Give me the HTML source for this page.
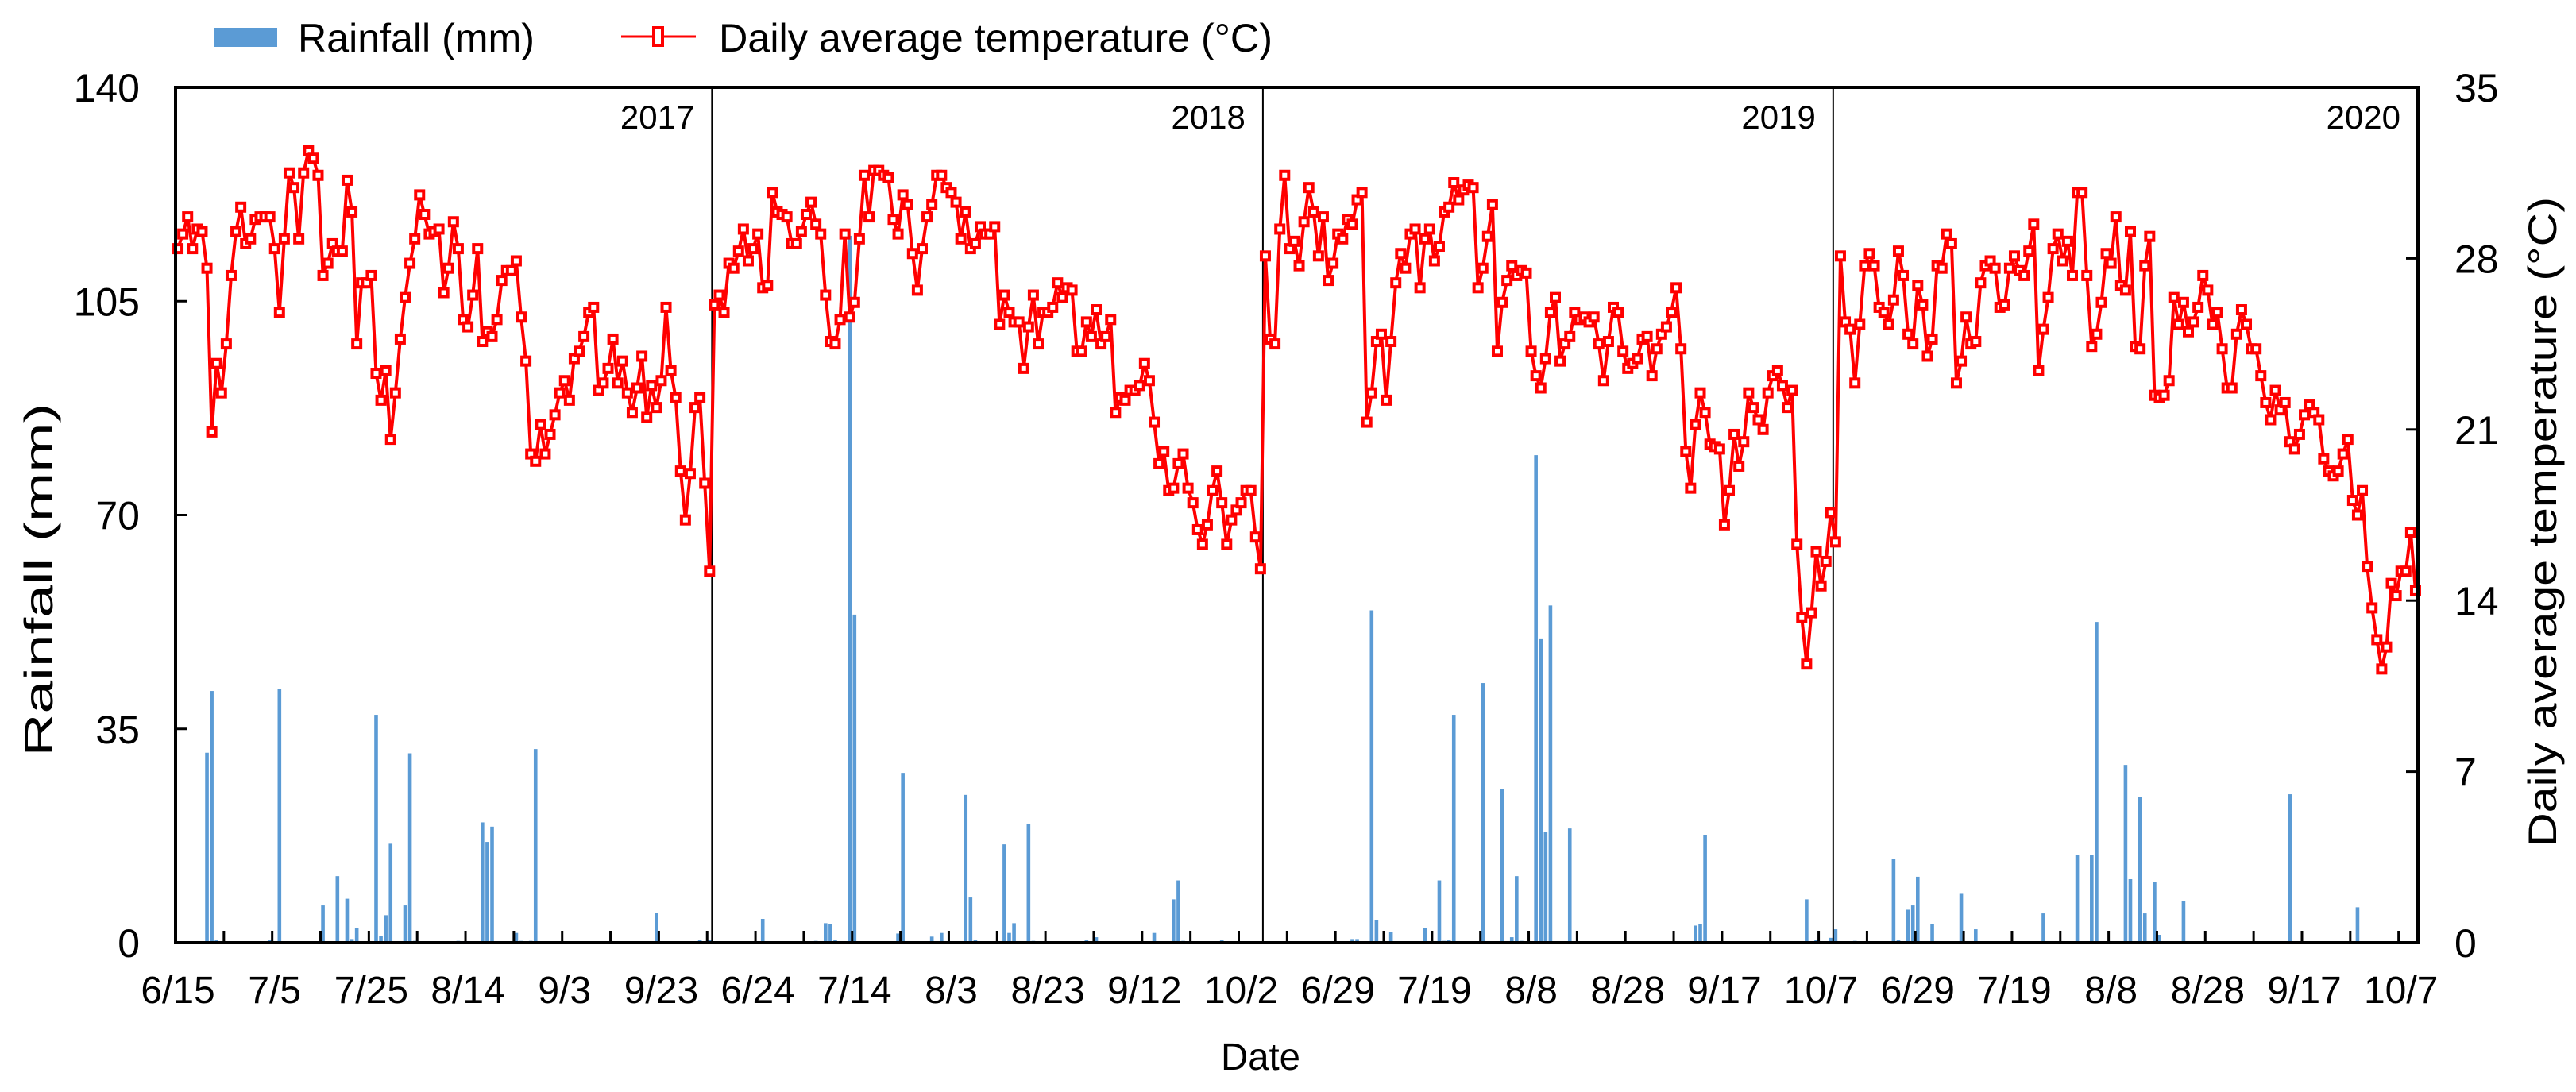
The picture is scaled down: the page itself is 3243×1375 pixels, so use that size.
<!DOCTYPE html>
<html><head><meta charset="utf-8"><style>
html,body{margin:0;padding:0;background:#fff;}
svg{display:block;font-family:"Liberation Sans",Arial,sans-serif;}
</style></head><body>
<svg id="chart" width="3243" height="1375" viewBox="0 0 3243 1375" xmlns="http://www.w3.org/2000/svg">
<g>
 <rect x="269" y="35" width="80" height="24" fill="#5b9bd5"/>
 <text x="375" y="65" font-size="50" textLength="298" lengthAdjust="spacingAndGlyphs">Rainfall (mm)</text>
 <line x1="782" y1="46" x2="876" y2="46" stroke="#ff0000" stroke-width="3"/>
 <rect x="823" y="35" width="11" height="22" fill="#fff" stroke="#ff0000" stroke-width="4"/>
 <text x="905" y="65" font-size="50" textLength="697" lengthAdjust="spacingAndGlyphs">Daily average temperature (°C)</text>
</g>
<g id="plot"></g>
<text transform="translate(66,730) rotate(-90)" text-anchor="middle" font-size="50" textLength="445" lengthAdjust="spacingAndGlyphs">Rainfall (mm)</text>
<text transform="translate(3218,657) rotate(-90)" text-anchor="middle" font-size="50" textLength="818" lengthAdjust="spacingAndGlyphs">Daily average temperature (°C)</text>
<text x="1587" y="1347" text-anchor="middle" font-size="48" textLength="100" lengthAdjust="spacingAndGlyphs">Date</text>
</svg>
<script>
const years = ["2017","2018","2019","2020"];
const temp2017 = [28.4,29.0,29.7,28.4,29.2,29.1,27.6,20.9,23.7,22.5,24.5,27.3,29.1,30.1,28.6,28.8,29.6,29.7,29.7,29.7,28.4,25.8,28.8,31.5,30.9,28.8,31.5,32.4,32.1,31.4,27.3,27.8,28.6,28.3,28.3,31.2,29.9,24.5,27.0,27.0,27.3,23.3,22.2,23.4,20.6,22.5,24.7,26.4,27.8,28.8,30.6,29.8,29.0,29.1,29.2,26.6,27.6,29.5,28.4,25.5,25.2,26.5,28.4,24.6,25.0,24.8,25.5,27.1,27.5,27.5,27.9,25.6,23.8,20.0,19.7,21.2,20.0,20.8,21.6,22.5,23.0,22.2,23.9,24.2,24.8,25.8,26.0,22.6,22.9,23.5,24.7,22.9,23.8,22.5,21.7,22.7,24.0,21.5,22.8,21.9,23.0,26.0,23.4,22.3,19.3,17.3,19.2,21.9,22.3,18.8,15.2];
const temp2018 = [26.1,26.5,25.8,27.8,27.6,28.3,29.2,27.9,28.4,29.0,26.8,26.9,30.7,29.9,29.8,29.7,28.6,28.6,29.1,29.8,30.3,29.4,29.0,26.5,24.6,24.5,25.5,29.0,25.6,26.2,28.8,31.4,29.7,31.6,31.6,31.4,31.3,29.6,29.0,30.6,30.2,28.2,26.7,28.4,29.7,30.2,31.4,31.4,30.9,30.7,30.3,28.8,29.9,28.4,28.6,29.3,29.0,29.0,29.3,25.3,26.5,25.8,25.4,25.4,23.5,25.2,26.5,24.5,25.8,25.8,26.0,27.0,26.4,26.8,26.7,24.2,24.2,25.4,24.8,25.9,24.5,24.8,25.5,21.7,22.3,22.2,22.6,22.6,22.8,23.7,23.0,21.3,19.6,20.1,18.5,18.6,19.6,20.0,18.6,18.0,16.9,16.3,17.1,18.5,19.3,18.0,16.3,17.3,17.7,18.0,18.5,18.5,16.6,15.3];
const temp2019 = [28.1,24.7,24.5,29.2,31.4,28.4,28.7,27.7,29.5,30.9,29.9,28.1,29.7,27.1,27.8,29.0,28.8,29.6,29.4,30.4,30.7,21.3,22.5,24.6,24.9,22.2,24.6,27.0,28.2,27.6,29.0,29.2,26.8,28.8,29.2,27.9,28.5,29.9,30.1,31.1,30.4,30.8,31.0,30.9,26.8,27.6,28.9,30.2,24.2,26.2,27.1,27.7,27.3,27.5,27.4,24.2,23.2,22.7,23.9,25.8,26.4,23.8,24.5,24.8,25.8,25.5,25.6,25.4,25.6,24.5,23.0,24.6,26.0,25.8,24.2,23.5,23.7,23.9,24.7,24.8,23.2,24.3,24.9,25.2,25.8,26.8,24.3,20.1,18.6,21.2,22.5,21.7,20.4,20.3,20.2,17.1,18.5,20.8,19.5,20.5,22.5,21.9,21.4,21.0,22.5,23.2,23.4,22.8,21.9,22.6,16.3,13.3,11.4,13.5,16.0,14.6,15.6,17.6];
const temp2020 = [16.4,28.1,25.4,25.1,22.9,25.3,27.7,28.2,27.7,26.0,25.8,25.3,26.3,28.3,27.3,24.9,24.5,26.9,26.1,24.0,24.7,27.7,27.6,29.0,28.6,22.9,23.8,25.6,24.5,24.6,27.0,27.7,27.9,27.6,26.0,26.1,27.6,28.1,27.5,27.3,28.3,29.4,23.4,25.1,26.4,28.4,29.0,27.9,28.7,27.3,30.7,30.7,27.3,24.4,24.9,26.2,28.2,27.8,29.7,26.9,26.7,29.1,24.4,24.3,27.7,28.9,22.4,22.3,22.4,23.0,26.4,25.3,26.2,25.0,25.4,26.0,27.3,26.7,25.3,25.8,24.3,22.7,22.7,24.9,25.9,25.3,24.3,24.3,23.2,22.1,21.4,22.6,21.8,22.1,20.5,20.2,20.8,21.6,22.0,21.7,21.4,19.8,19.3,19.1,19.3,20.0,20.6,18.1,17.5,18.5,15.4,13.7,12.4,11.2,12.1,14.7,14.2,15.2,15.2,16.8,14.4];
const rainDay = [6,7,8,19,21,30,33,35,36,37,41,42,43,44,47,48,49,58,63,64,65,70,71,73,74,99,108,110,
121,132,134,135,136,139,140,149,150,156,158,163,164,165,171,172,173,176,177,188,190,202,206,207,208,216,
243,244,247,248,251,258,261,262,263,264,270,274,276,277,278,281,282,283,284,288,314,315,316,337,339,342,343,
347,355,356,358,359,360,363,369,372,386,393,396,397,400,401,403,404,406,407,409,410,415,422,423,434,437,451,453];
const rainMM = [31.1,41.2,0.4,0.4,41.5,6.1,10.9,7.2,0.6,2.4,37.3,1.1,4.5,16.2,6.1,31.0,0.3,0.3,19.7,16.5,19.0,1.6,0.3,0.3,31.7,4.9,0.4,0.4,
3.9,0.3,3.2,3.0,0.4,115.7,53.7,1.5,27.8,1.0,1.6,24.2,7.4,0.5,16.1,1.6,3.2,19.5,0.3,0.4,0.9,1.6,7.1,10.2,0.3,0.4,
0.6,0.6,54.4,3.7,1.7,2.4,10.2,0.3,0.4,37.3,42.5,25.2,0.9,10.9,0.3,79.8,49.8,18.1,55.2,18.7,2.8,3.0,17.6,7.1,0.5,0.8,2.2,
0.3,13.7,0.5,5.4,6.1,10.8,3.0,8.0,2.2,4.8,14.4,14.4,52.5,0.2,0.2,29.1,10.4,23.8,4.8,9.9,1.3,6.8,0.2,0.2,0.2,24.3,5.8,0.2];
const dateLabels = ["6/15","7/5","7/25","8/14","9/3","9/23","6/24","7/14","8/3","8/23","9/12","10/2","6/29","7/19","8/8","8/28","9/17","10/7","6/29","7/19","8/8","8/28","9/17","10/7"];
const rainTicks = [0,35,70,105,140];
const tempTicks = [0,7,14,21,28,35];

const NS="http://www.w3.org/2000/svg";
const L=221,R=3044,T=110,B=1187;
const temps=[temp2017,temp2018,temp2019,temp2020];
const N=temps.reduce((a,b)=>a+b.length,0);
const cw=(R-L)/N;
const xC=i=>L+(i+0.5)*cw;
const yRain=v=>B-(v/140)*(B-T);
const yTemp=v=>B-(v/35)*(B-T);
const plot=document.getElementById('plot');
function mk(tag,attrs,parent){const e=document.createElementNS(NS,tag);for(const k in attrs)e.setAttribute(k,attrs[k]);(parent||plot).appendChild(e);return e;}

const rg=mk('g',{});


rainDay.forEach((d,k)=>{
  const y=yRain(rainMM[k]);
  const b=mk('rect',{x:xC(d)-2.3,y:y,width:4.6,height:B-y,fill:'#5b9bd5'},rg);
  
  
});

let start=0;
temps.forEach((arr,yi)=>{
  const end=start+arr.length;
  const xr=L+end*cw;
  if(yi<temps.length-1){
    const dv=mk('line',{x1:xr,y1:T,x2:xr,y2:B,stroke:'#000','stroke-width':2});
    
    
  }
  const yl=mk('text',{x:xr-22,y:162,'text-anchor':'end','font-size':42});
  yl.textContent=years[yi];
  
  
  start=end;
});

let all=[];temps.forEach(a=>all=all.concat(a));
const pts=all.map((v,i)=>xC(i).toFixed(1)+','+yTemp(v).toFixed(1)).join(' ');
const tl=mk('polyline',{points:pts,fill:'none',stroke:'#ff0000','stroke-width':4,'stroke-linejoin':'round'});


const mg=mk('g',{});


all.forEach((v,i)=>{
  const m=mk('rect',{x:xC(i)-5,y:yTemp(v)-5,width:10,height:10,fill:'#fff',stroke:'#ff0000','stroke-width':4},mg);
  
  
});

const fr=mk('rect',{x:L,y:T,width:R-L,height:B-T,fill:'none',stroke:'#000','stroke-width':4});



for(let i=10;i<N;i+=10){
  const x=L+i*cw;
  const t=mk('line',{x1:x,y1:B,x2:x,y2:B-15,stroke:'#000','stroke-width':3});
  
  
}
dateLabels.forEach((s,k)=>{
  const t=mk('text',{x:xC(k*20),y:1263,'text-anchor':'middle','font-size':48});
  t.textContent=s;
  
  
});
rainTicks.forEach(v=>{
  const y=yRain(v);
  if(v>0&&v<140){const t=mk('line',{x1:L,y1:y,x2:L+15,y2:y,stroke:'#000','stroke-width':3});
  
  }
  const lb=mk('text',{x:176,y:y+18,'text-anchor':'end','font-size':50});
  lb.textContent=v;
  
  
});
tempTicks.forEach(v=>{
  const y=yTemp(v);
  if(v>0&&v<35){const t=mk('line',{x1:R,y1:y,x2:R-15,y2:y,stroke:'#000','stroke-width':3});
  
  }
  const lb=mk('text',{x:3090,y:y+18,'text-anchor':'start','font-size':50});
  lb.textContent=v;
  
  
});
</script>
</body></html>
